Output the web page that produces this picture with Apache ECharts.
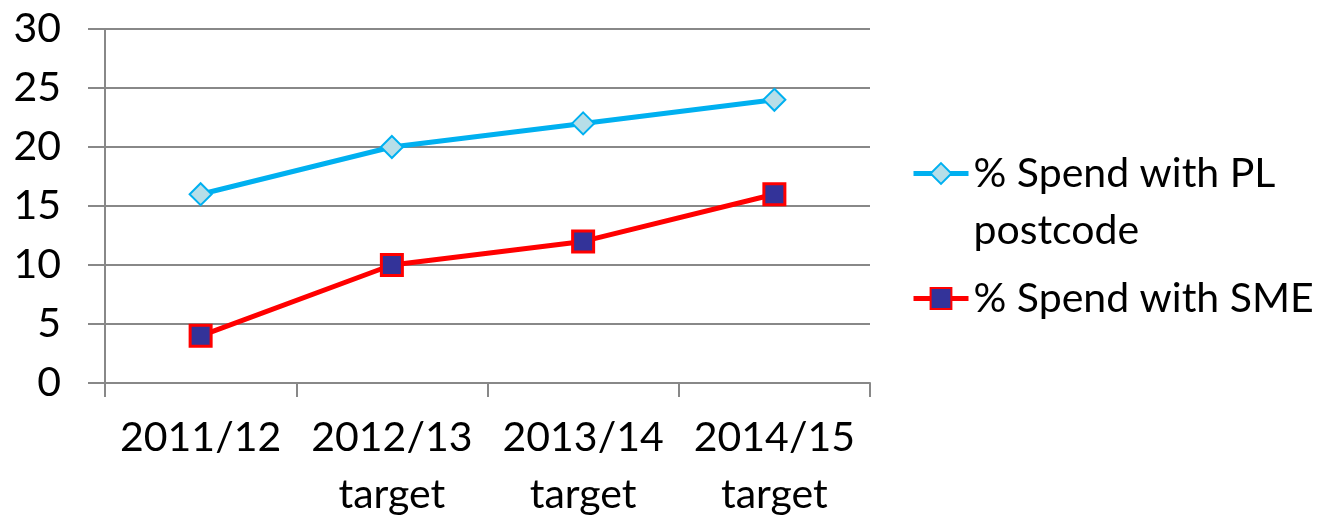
<!DOCTYPE html>
<html>
<head>
<meta charset="utf-8">
<script src="https://cdn.jsdelivr.net/npm/echarts@6/dist/echarts.min.js"></script>
<style>
  html, body { margin: 0; padding: 0; background: #fff; }
  #chart { width: 1336px; height: 523px; }
</style>
</head>
<body>
<div id="chart"></div>
<script>
const categories = ["2011/12", "2012/13\ntarget", "2013/14\ntarget", "2014/15\ntarget"];
const plPostcode = [16, 20, 22, 24];
const sme = [4, 10, 12, 16];
const seriesNames = ["% Spend with PL\npostcode", "% Spend with SME"];

const font = "Lato";
const gridColor = "#888888";

const chart = echarts.init(document.getElementById("chart"));
const option = {
  animation: false,
  textStyle: { fontFamily: font },
  grid: {
    left: 105,
    right: 466,
    top: 29,
    bottom: 139
  },
  xAxis: {
    type: "category",
    data: categories,
    boundaryGap: true,
    axisLine: { lineStyle: { color: gridColor, width: 2 } },
    axisTick: { show: true, interval: 0, length: 14, lineStyle: { color: gridColor, width: 2 } },
    axisLabel: {
      interval: 0,
      color: "#000",
      fontSize: 41,
      fontFamily: font,
      lineHeight: 57,
      margin: 26
    }
  },
  yAxis: {
    type: "value",
    min: 0,
    max: 30,
    interval: 5,
    axisLine: { show: true, lineStyle: { color: gridColor, width: 2 } },
    axisTick: { show: true, length: 17, lineStyle: { color: gridColor, width: 2 } },
    splitLine: { lineStyle: { color: gridColor, width: 2 } },
    axisLabel: {
      color: "#000",
      fontSize: 41,
      fontFamily: font,
      margin: 44
    }
  },
  legend: {
    orient: "vertical",
    left: 906,
    top: 83,
    padding: 5,
    itemWidth: 55,
    itemHeight: 26,
    itemGap: 11,
    lineStyle: { width: 5 },
    textStyle: { color: "#000", fontSize: 41, fontFamily: font, lineHeight: 57 },
    // blank first line keeps the icon level with the first text line
    formatter: name => (name === seriesNames[0] ? "\u00a0\n" + name : name),
    data: seriesNames
  },
  series: [
    {
      name: seriesNames[0],
      type: "line",
      data: plPostcode,
      symbol: "diamond",
      symbolSize: 22,
      lineStyle: { color: "#00b0f0", width: 5 },
      itemStyle: { color: "#b7dee8", borderColor: "#00b0f0", borderWidth: 2 }
    },
    {
      name: seriesNames[1],
      type: "line",
      data: sme,
      symbol: "rect",
      symbolSize: 21,
      lineStyle: { color: "#ff0000", width: 5 },
      itemStyle: { color: "#333399", borderColor: "#ff0000", borderWidth: 3 }
    }
  ]
};
chart.setOption(option);
</script>
</body>
</html>
